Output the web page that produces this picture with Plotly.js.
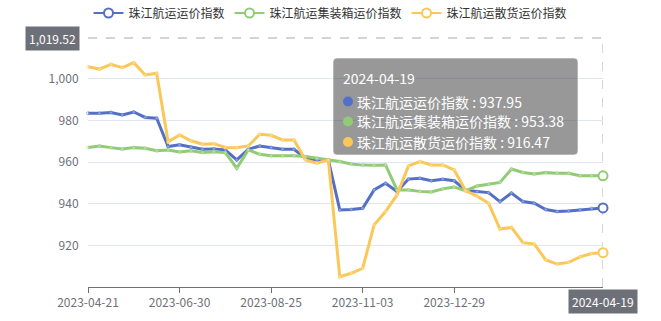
<!DOCTYPE html>
<html>
<head>
<meta charset="utf-8">
<script src="https://cdn.plot.ly/plotly-3.0.1.min.js"></script>
<style>html,body{margin:0;padding:0;background:#fff;}#chart{width:661px;height:321px;}</style>
</head>
<body>
<div id="chart"></div>
<script>
const dates = ["2023-04-21","2023-04-28","2023-05-12","2023-05-19","2023-05-26","2023-06-02","2023-06-09","2023-06-16","2023-06-30","2023-07-07",
"2023-07-14","2023-07-21","2023-07-28","2023-08-04","2023-08-11","2023-08-18","2023-08-25","2023-09-01","2023-09-08","2023-09-15",
"2023-09-22","2023-10-13","2023-10-20","2023-10-27","2023-11-03","2023-11-10","2023-11-17","2023-11-24","2023-12-01","2023-12-08",
"2023-12-15","2023-12-22","2023-12-29","2024-01-05","2024-01-12","2024-01-19","2024-01-26","2024-02-02","2024-02-23","2024-03-01",
"2024-03-08","2024-03-15","2024-03-22","2024-03-29","2024-04-12","2024-04-19"];

const seriesNames = ["珠江航运运价指数","珠江航运集装箱运价指数","珠江航运散货运价指数"];
const seriesColors = ["#5470c6","#91cc75","#fac858"];

const totalIndex = [983.4,983.4,983.8,982.6,984.0,981.4,981.0,967.4,968.3,967.1,
966.1,966.3,965.8,961.0,966.1,967.7,967.0,966.1,966.1,961.8,
961.0,961.0,937.0,937.2,937.8,946.6,949.8,945.8,951.8,952.2,
951.0,951.7,951.0,946.4,945.8,945.3,941.0,945.1,941.0,940.2,
937.2,936.2,936.5,937.1,937.7,937.95];

const containerIndex = [967.0,967.7,966.9,966.2,966.9,966.6,965.4,965.8,964.8,965.4,
964.6,964.9,964.5,957.0,965.8,963.7,963.0,963.0,963.0,962.6,
961.8,961.0,960.2,959.0,958.5,958.4,958.6,946.6,946.6,945.9,
945.6,947.1,948.0,946.2,948.5,949.3,950.2,956.6,955.0,954.2,
954.9,954.6,954.6,953.4,953.4,953.38];

const bulkIndex = [1005.7,1004.6,1006.9,1005.3,1007.7,1001.8,1002.6,969.7,973.0,970.2,
968.5,968.8,967.0,966.9,967.7,973.3,972.8,970.6,970.6,961.0,
959.4,961.0,904.9,906.6,909.0,929.8,936.2,944.2,958.1,960.2,
958.6,958.6,956.2,946.2,943.6,940.2,927.8,928.6,921.3,920.6,
913.0,911.0,911.8,914.5,916.1,916.47];

const yTicks = [920,940,960,980,1000];
const xTickIdx = [0,8,16,24,32];
const pointerY = 1019.52;
const hoverIdx = dates.length - 1;

const allSeries = [totalIndex, containerIndex, bulkIndex];
const FONT = '"Noto Sans CJK SC", "Microsoft YaHei", sans-serif';

// plot area in pixels
const L = 88, T = 37, W = 515, H = 250;
const px = v => (v - L) / W;
const py = v => (T + H - v) / H;

const traces = [];
allSeries.forEach((s, k) => {
  traces.push({
    type: 'scatter', mode: 'lines+markers', x: dates, y: s, name: seriesNames[k],
    showlegend: false, cliponaxis: false,
    line: {color: seriesColors[k], width: 3},
    marker: {size: 3, color: 'rgba(255,255,255,0.35)', line: {color: seriesColors[k], width: 0.5}}
  });
});
allSeries.forEach((s, k) => {
  traces.push({
    type: 'scatter', mode: 'markers', x: [dates[hoverIdx]], y: [s[hoverIdx]],
    showlegend: false, cliponaxis: false,
    marker: {size: 9, color: '#fff', line: {color: seriesColors[k], width: 2}}
  });
});
allSeries.forEach((s, k) => {
  traces.push({
    type: 'scatter', mode: 'lines+markers', x: [null], y: [null], name: seriesNames[k],
    showlegend: true,
    line: {color: seriesColors[k], width: 2},
    marker: {size: 9, color: '#fff', line: {color: seriesColors[k], width: 2}}
  });
});

const shapes = [
  {type: 'line', xref: 'x', yref: 'paper', x0: dates[hoverIdx], x1: dates[hoverIdx], y0: 0, y1: 1,
   line: {color: '#aaa', width: 1, dash: 'dash'}, layer: 'below'},
  {type: 'line', xref: 'paper', yref: 'y', x0: 0, x1: 1, y0: pointerY, y1: pointerY,
   line: {color: '#aaa', width: 1, dash: 'dash'}, layer: 'below'},
  {type: 'path', xref: 'paper', yref: 'paper', xsizemode: 'pixel', ysizemode: 'pixel', xanchor: 0, yanchor: 0,
   path: 'M 249,229 L 486,229 Q 490,229 490,225 L 490,136 Q 490,132 486,132 L 249,132 Q 245,132 245,136 L 245,225 Q 245,229 249,229 Z',
   fillcolor: 'rgba(50,50,50,0.5)', line: {width: 1, color: 'rgba(255,255,255,0.6)'}, layer: 'above'}
];
const rowY = [101.5, 121.5, 142];
rowY.forEach((yy, k) => {
  shapes.push({type: 'circle', xref: 'paper', yref: 'paper', xsizemode: 'pixel', ysizemode: 'pixel',
    xanchor: 0, yanchor: 0, x0: 348 - L - 5, x1: 348 - L + 5, y0: (T + H - yy) - 5, y1: (T + H - yy) + 5,
    fillcolor: seriesColors[k], line: {width: 0}, layer: 'above'});
});

const annotations = [
  {xref: 'paper', yref: 'paper', x: px(341), y: py(78), xanchor: 'left', yanchor: 'middle', showarrow: false,
   text: dates[hoverIdx], font: {family: FONT, size: 14, color: '#fff'}}
];
rowY.forEach((yy, k) => {
  annotations.push({xref: 'paper', yref: 'paper', x: px(355), y: py(yy), xanchor: 'left', yanchor: 'middle', showarrow: false,
    text: seriesNames[k] + ' : ' + allSeries[k][hoverIdx].toFixed(2), font: {family: FONT, size: 14, color: '#fff'}});
});
annotations.push({xref: 'paper', yref: 'y', x: px(80), y: pointerY, xanchor: 'right', yanchor: 'middle', showarrow: false,
  text: pointerY.toLocaleString('en-US', {minimumFractionDigits: 2}), bgcolor: '#6E7079', borderpad: 3,
  font: {family: FONT, size: 12, color: '#fff'}});
annotations.push({xref: 'x', yref: 'paper', x: dates[hoverIdx], y: py(301), xanchor: 'center', yanchor: 'middle', showarrow: false,
  text: dates[hoverIdx], bgcolor: '#6E7079', borderpad: 3,
  font: {family: FONT, size: 12, color: '#fff'}});

const layout = {
  width: 661, height: 321,
  margin: {l: L, r: 661 - L - W, t: T, b: 321 - T - H, pad: 0},
  paper_bgcolor: '#fff', plot_bgcolor: '#fff',
  font: {family: FONT, size: 12, color: '#6E7079'},
  hovermode: false,
  showlegend: true,
  legend: {orientation: 'h', xref: 'container', yref: 'container', x: 0.5, xanchor: 'center', y: 1 - 13/321, yanchor: 'middle',
    font: {family: FONT, size: 12, color: '#333'}, itemwidth: 30, bgcolor: 'rgba(0,0,0,0)'},
  xaxis: {type: 'category', range: [0, dates.length - 1], tickmode: 'array',
    tickvals: xTickIdx.map(i => dates[i]), ticktext: xTickIdx.map(i => dates[i]),
    showgrid: false, zeroline: false, showline: true, linecolor: '#6E7079', linewidth: 1,
    ticks: 'outside', ticklen: 5, tickcolor: '#6E7079', tickfont: {family: FONT, size: 12, color: '#6E7079'}},
  yaxis: {range: [900, 1020], tickmode: 'array', tickvals: yTicks, tickformat: ',',
    showgrid: true, gridcolor: '#E0E6F1', gridwidth: 1, zeroline: false, showline: false,
    ticks: 'outside', ticklen: 6, tickcolor: 'rgba(0,0,0,0)', tickfont: {family: FONT, size: 12, color: '#6E7079'}},
  shapes: shapes,
  annotations: annotations
};

Plotly.newPlot('chart', traces, layout, {displayModeBar: false, staticPlot: true});
</script>
</body>
</html>
